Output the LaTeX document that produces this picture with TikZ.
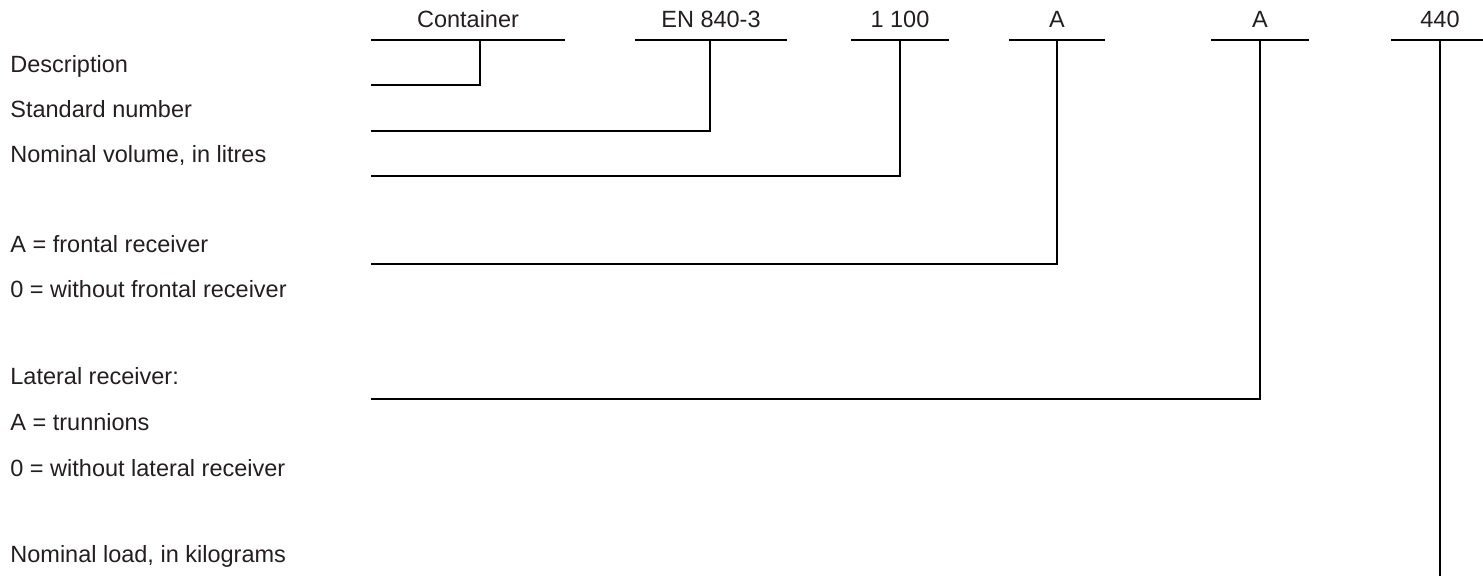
\documentclass[tikz,border=0pt]{standalone}
\usepackage{fontspec}
\setmainfont{Liberation Sans}
\definecolor{txtgray}{HTML}{231F20}
\begin{document}
\begin{tikzpicture}[
  x=0.5pt, y=-0.5pt,
  field/.style={anchor=base, inner sep=0pt, font=\fontsize{11.75}{14}\selectfont, text=txtgray},
  expl/.style={anchor=base west, inner sep=0pt, font=\fontsize{11.75}{14}\selectfont, text=txtgray},
  lead/.style={line width=1.25pt, line cap=rect}
]
\useasboundingbox (0,0) rectangle (1483,575);

% designation fields on top
\node[field] (desc) at (468,27) {Container};
\node[field] (std) at (711,27) {EN 840-3};
\node[field] (vol) at (900,27) {1 100};
\node[field] (front) at (1057,27) {A};
\node[field] (lat) at (1260,27) {A};
\node[field] (load) at (1440,27) {440};

% explanations
\node[expl] (tdesc) at (10,72) {Description};
\node[expl] (tstd) at (10,117) {Standard number};
\node[expl] (tvol) at (10,162) {Nominal volume, in litres};
\node[expl] (tfront) at (10,252) {A = frontal receiver};
\node[expl] (tfront0) at (10,297) {0 = without frontal receiver};
\node[expl] (tlat) at (10,384) {Lateral receiver:};
\node[expl] (tlatA) at (10,430) {A = trunnions};
\node[expl] (tlat0) at (10,476) {0 = without lateral receiver};
\node[expl] (tload) at (10,562) {Nominal load, in kilograms};

% bars under the fields
\coordinate (desc-l) at (372,40);  \coordinate (desc-r) at (564,40);
\coordinate (std-l) at (636,40);   \coordinate (std-r) at (786,40);
\coordinate (vol-l) at (852,40);   \coordinate (vol-r) at (948,40);
\coordinate (front-l) at (1010,40); \coordinate (front-r) at (1104,40);
\coordinate (lat-l) at (1212,40);  \coordinate (lat-r) at (1308,40);
\coordinate (load-l) at (1392,40); \coordinate (load-r) at (1488,40);

\draw[lead] (desc-l) -- (desc-r);
\draw[lead] (std-l) -- (std-r);
\draw[lead] (vol-l) -- (vol-r);
\draw[lead] (front-l) -- (front-r);
\draw[lead] (lat-l) -- (lat-r);
\draw[lead] (load-l) -- (load-r);

% leader lines
\coordinate (desc-t) at (480,40);  \coordinate (desc-e) at (372,85);
\coordinate (std-t) at (710,40);   \coordinate (std-e) at (372,131);
\coordinate (vol-t) at (900,40);   \coordinate (vol-e) at (372,176);
\coordinate (front-t) at (1057,40); \coordinate (front-e) at (372,264);
\coordinate (lat-t) at (1260,40);  \coordinate (lat-e) at (372,399);
\coordinate (load-t) at (1440,40); \coordinate (load-e) at (1440,580);

\draw[lead] (desc-t) |- (desc-e);
\draw[lead] (std-t) |- (std-e);
\draw[lead] (vol-t) |- (vol-e);
\draw[lead] (front-t) |- (front-e);
\draw[lead] (lat-t) |- (lat-e);
\draw[lead] (load-t) -- (load-e);
\end{tikzpicture}
\end{document}
